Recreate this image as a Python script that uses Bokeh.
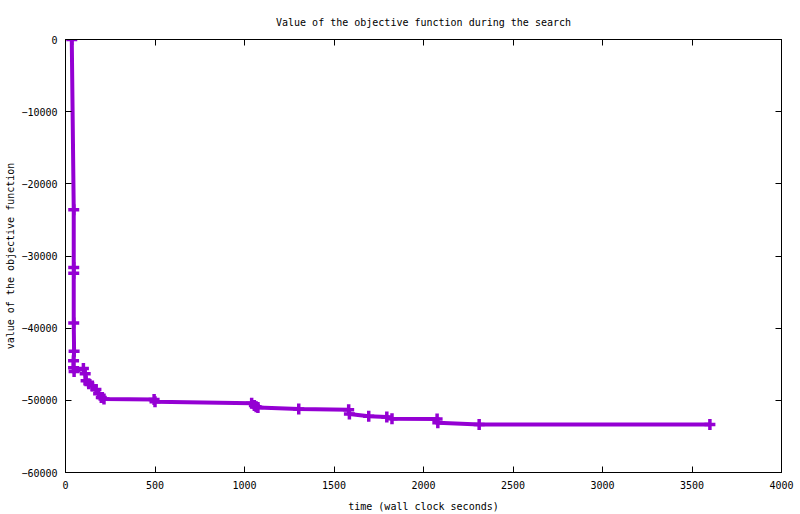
from bokeh.plotting import figure
from bokeh.models import Range1d, FixedTicker, LinearAxis, CustomJSTickFormatter
from bokeh.embed import file_html
from bokeh.resources import INLINE

# data
time_s = [35, 46, 46, 46, 46, 48, 45, 45, 48, 100, 110, 115, 130, 150, 170, 185, 200,
          215, 495, 500, 1040, 1055, 1065, 1075, 1303, 1582, 1586, 1694, 1795, 1824,
          2076, 2080, 2311, 3600]
objective = [0, -23600, -31600, -32400, -39300, -43200, -44500, -45500, -46000, -45600,
             -46300, -47300, -47700, -48000, -48500, -49100, -49600, -49800, -49900,
             -50200, -50400, -50700, -50900, -51000, -51200, -51300, -51900, -52200,
             -52300, -52550, -52600, -53100, -53350, -53350]
x_ticks = [0, 500, 1000, 1500, 2000, 2500, 3000, 3500, 4000]
y_ticks = [-60000, -50000, -40000, -30000, -20000, -10000, 0]

FONT = "DejaVu Sans Mono"
COLOR = "#9400D3"

p = figure(width=800, height=514, output_backend="svg", toolbar_location=None,
           x_range=Range1d(0, 4000), y_range=Range1d(-60000, 0),
           title="Value of the objective function during the search",
           min_border_left=65, min_border_right=19, min_border_top=39, min_border_bottom=42)

p.title.text_font = FONT
p.title.text_font_size = "10px"
p.title.text_font_style = "normal"
p.title.text_color = "black"
p.title.align = "center"
p.title.standoff = 23

p.xgrid.visible = False
p.ygrid.visible = False
p.outline_line_color = "black"
p.outline_line_width = 1
p.background_fill_color = "white"
p.border_fill_color = "white"

p.xaxis.ticker = FixedTicker(ticks=x_ticks)
p.yaxis.ticker = FixedTicker(ticks=y_ticks)
p.xaxis.axis_label = "time (wall clock seconds)"
p.yaxis.axis_label = "value of the objective function"

for ax in (p.xaxis[0], p.yaxis[0]):
    ax.major_tick_in = 6
    ax.major_tick_out = 0
    ax.minor_tick_line_color = None
    ax.axis_line_color = "black"
    ax.major_tick_line_color = "black"
    ax.major_label_text_font = FONT
    ax.major_label_text_font_size = "10px"
    ax.major_label_text_color = "black"
    ax.major_label_standoff = 8
    ax.axis_label_text_font = FONT
    ax.axis_label_text_font_size = "10px"
    ax.axis_label_text_font_style = "normal"
    ax.axis_label_text_color = "black"

p.xaxis[0].axis_label_standoff = 9
p.yaxis[0].axis_label_standoff = 2

# mirrored ticks on top and right, without labels
blank = CustomJSTickFormatter(code="return ''")
top = LinearAxis(ticker=FixedTicker(ticks=x_ticks), major_tick_in=6, major_tick_out=0,
                 minor_tick_line_color=None, formatter=blank,
                 major_label_standoff=0, axis_line_color="black")
right = LinearAxis(ticker=FixedTicker(ticks=y_ticks), major_tick_in=6, major_tick_out=0,
                   minor_tick_line_color=None, formatter=blank,
                   major_label_standoff=0, axis_line_color="black")
p.add_layout(top, "above")
p.add_layout(right, "right")

p.line(time_s, objective, line_width=4, color=COLOR)
p.scatter(time_s, objective, marker="cross", size=11, line_width=3.5, color=COLOR)

open("out.html", "w").write(file_html(p, INLINE))
